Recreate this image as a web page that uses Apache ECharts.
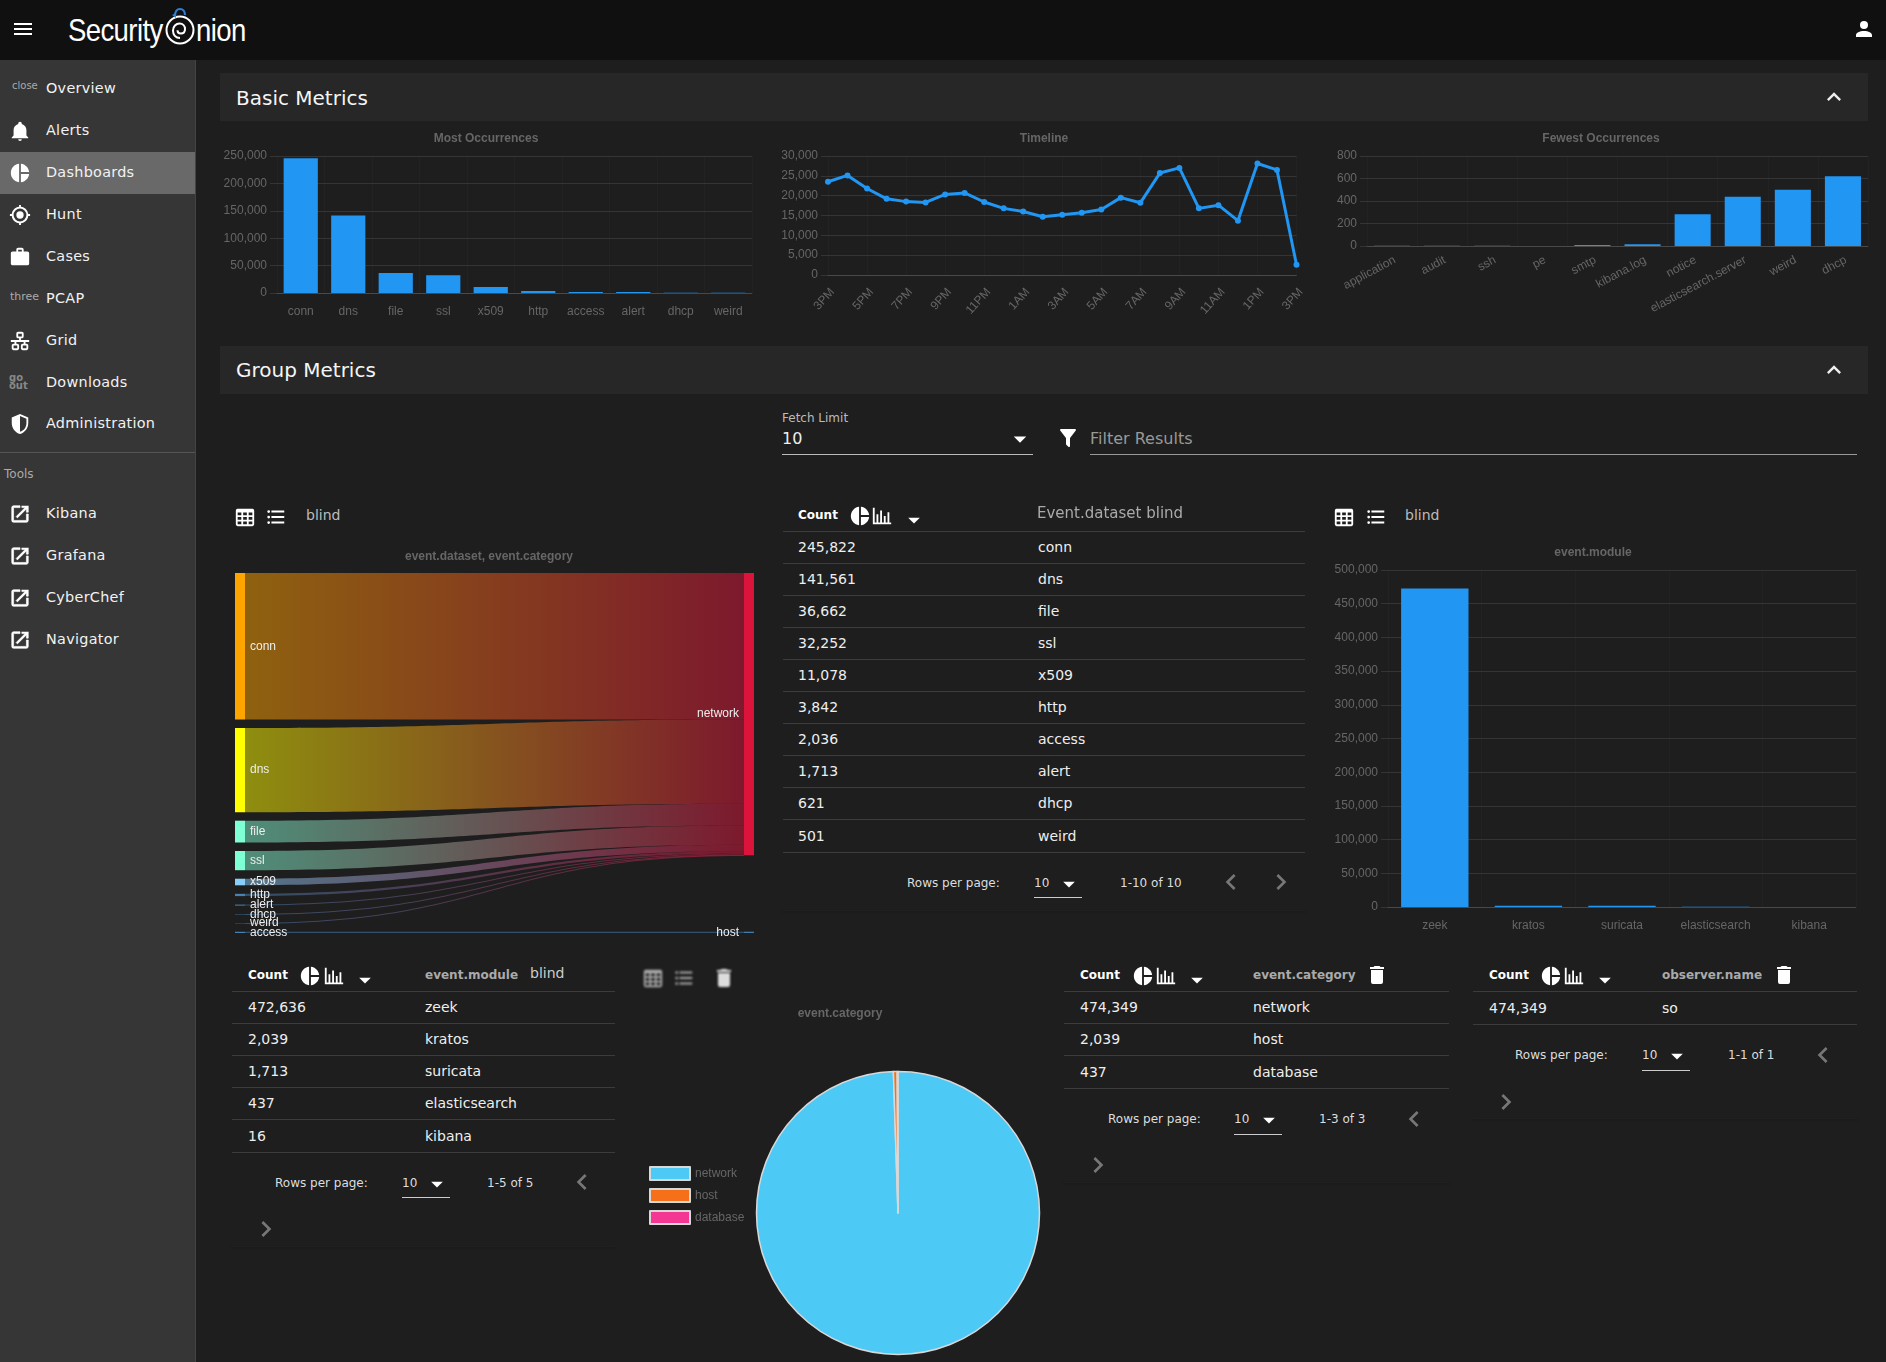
<!DOCTYPE html>
<html>
<head>
<meta charset="utf-8">
<title>Security Onion Dashboards</title>
<script src="https://cdn.jsdelivr.net/npm/echarts@6/dist/echarts.min.js"></script>
<style>
html, body { margin: 0; padding: 0; background: #1e1e1e; }
#page { position: relative; width: 1886px; height: 1362px; overflow: hidden; background: #1e1e1e; font-family: "DejaVu Sans", sans-serif; color: #fff; }
.box { position: absolute; }
.txt { position: absolute; white-space: nowrap; transform: translateY(-50%); }
.chart { position: absolute; }
svg.ic { position: absolute; transform: translate(-50%, -50%); }
</style>
</head>
<body>
<div id="page"></div>
<script>
// most / fewest occurrences
var mostCats = ['conn', 'dns', 'file', 'ssl', 'x509', 'http', 'access', 'alert', 'dhcp', 'weird'];
var mostVals = [245822, 141561, 36662, 32252, 11078, 3842, 2036, 1713, 621, 501];
var fewestCats = ['application', 'audit', 'ssh', 'pe', 'smtp', 'kibana.log', 'notice', 'elasticsearch.server', 'weird', 'dhcp'];
var fewestVals = [2, 2, 3, 1, 10, 16, 282, 437, 501, 621];

// timeline, hourly
var timeCats = ['3PM', '4PM', '5PM', '6PM', '7PM', '8PM', '9PM', '10PM', '11PM', '12AM', '1AM', '2AM', '3AM', '4AM', '5AM', '6AM', '7AM', '8AM', '9AM', '10AM', '11AM', '12PM', '1PM', '2PM', '3PM'];
var timeVals = [23500, 25100, 21800, 19200, 18500, 18300, 20300, 20700, 18400, 16800, 16000, 14700, 15200, 15700, 16500, 19500, 18200, 25700, 27000, 16800, 17600, 13700, 28100, 26500, 2600];

// sankey
var sankeyLeft = ['conn', 'dns', 'file', 'ssl', 'x509', 'http', 'alert', 'dhcp', 'weird', 'access'];
var sankeyLeftVals = [245822, 141561, 36662, 32252, 11078, 3842, 1713, 621, 501, 2036];
var sankeyRight = ['network', 'network', 'network', 'network', 'network', 'network', 'network', 'network', 'network', 'host'];
var sankeyColors = ['#ffa500', '#ffff00', '#7fffd4', '#7fffd4', '#87cefa', '#4682b4', '#4682b4', '#4682b4', '#4682b4', '#4682b4'];

// event.module
var moduleCats = ['zeek', 'kratos', 'suricata', 'elasticsearch', 'kibana'];
var moduleVals = [472636, 2039, 1713, 437, 16];

// event.category
var categoryCats = ['network', 'host', 'database'];
var categoryVals = [474349, 2039, 437];
var categoryColors = ['#4dc9f6', '#f67019', '#f53794'];

var observerCats = ['so'];
var observerVals = [474349];

var navItems = [
  ['Overview', 88, 'close'], ['Alerts', 130, 'bell'], ['Dashboards', 172, 'pie'], ['Hunt', 214, 'hunt'],
  ['Cases', 256, 'case'], ['PCAP', 298, 'three'], ['Grid', 340, 'grid'], ['Downloads', 382, 'go'],
  ['Administration', 423, 'shield'], ['Kibana', 513, 'link'], ['Grafana', 555, 'link'],
  ['CyberChef', 597, 'link'], ['Navigator', 639, 'link']
];

var icons = {
  menu: 'M3,6H21V8H3V6M3,11H21V13H3V11M3,16H21V18H3V16Z',
  bell: 'M21,19V20H3V19L5,17V11C5,7.9 7.03,5.17 10,4.29C10,4.19 10,4.1 10,4A2,2 0 0,1 12,2A2,2 0 0,1 14,4C14,4.1 14,4.19 14,4.29C16.97,5.17 19,7.9 19,11V17L21,19M14,21A2,2 0 0,1 12,23A2,2 0 0,1 10,21',
  pie: 'M11,2V22C5.9,21.5 2,17.2 2,12C2,6.8 5.9,2.5 11,2M13,2V11H22C21.5,6.2 17.8,2.5 13,2M13,13V22C17.7,21.5 21.5,17.8 22,13H13Z',
  hunt: 'M12,8A4,4 0 0,1 16,12A4,4 0 0,1 12,16A4,4 0 0,1 8,12A4,4 0 0,1 12,8M3.05,13H1V11H3.05C3.5,6.83 6.83,3.5 11,3.05V1H13V3.05C17.17,3.5 20.5,6.83 20.95,11H23V13H20.95C20.5,17.17 17.17,20.5 13,20.95V23H11V20.95C6.83,20.5 3.5,17.17 3.05,13M12,5A7,7 0 0,0 5,12A7,7 0 0,0 12,19A7,7 0 0,0 19,12A7,7 0 0,0 12,5Z',
  'case': 'M10,2H14A2,2 0 0,1 16,4V6H20A2,2 0 0,1 22,8V19A2,2 0 0,1 20,21H4C2.89,21 2,20.1 2,19V8C2,6.89 2.89,6 4,6H8V4C8,2.89 8.89,2 10,2M14,6V4H10V6H14Z',
  grid: 'M10,2C8.89,2 8,2.89 8,4V7C8,8.11 8.89,9 10,9H11V11H2V13H6V15H5C3.89,15 3,15.89 3,17V20C3,21.11 3.89,22 5,22H9C10.11,22 11,21.11 11,20V17C11,15.89 10.11,15 9,15H8V13H16V15H15C13.89,15 13,15.89 13,17V20C13,21.11 13.89,22 15,22H19C20.11,22 21,21.11 21,20V17C21,15.89 20.11,15 19,15H18V13H22V11H13V9H14C15.11,9 16,8.11 16,7V4C16,2.89 15.11,2 14,2H10M10,4H14V7H10V4M5,17H9V20H5V17M15,17H19V20H15V17Z',
  shield: 'M12,1L3,5V11C3,16.55 6.84,21.74 12,23C17.16,21.74 21,16.55 21,11V5L12,1M12,3.18L19,6.3V11.22C19,15.54 16.08,19.5 12,20.5V3.18Z',
  link: 'M14,3V5H17.59L7.76,14.83L9.17,16.24L19,6.41V10H21V3M19,19H5V5H12V3H5C3.89,3 3,3.9 3,5V19A2,2 0 0,0 5,21H19C20.1,21 21,20.1 21,19V12H19V19Z',
  user: 'M12,4A4,4 0 0,1 16,8A4,4 0 0,1 12,12A4,4 0 0,1 8,8A4,4 0 0,1 12,4M12,14C16.42,14 20,15.79 20,18V20H4V18C4,15.79 7.58,14 12,14Z',
  up: 'M7.41,15.41L12,10.83L16.59,15.41L18,14L12,8L6,14L7.41,15.41Z',
  left: 'M15.41,16.58L10.83,12L15.41,7.41L14,6L8,12L14,18L15.41,16.58Z',
  right: 'M8.59,16.58L13.17,12L8.59,7.41L10,6L16,12L10,18L8.59,16.58Z',
  down: 'M7,10L12,15L17,10H7Z',
  table: 'M4,3H20A2,2 0 0,1 22,5V20A2,2 0 0,1 20,22H4A2,2 0 0,1 2,20V5A2,2 0 0,1 4,3M4,7V10H8V7H4M10,7V10H14V7H10M20,10V7H16V10H20M4,12V15H8V12H4M4,20H8V17H4V20M10,12V15H14V12H10M10,20H14V17H10V20M20,20V17H16V20H20M20,12H16V15H20V12Z',
  list: 'M7,5H21V7H7V5M7,13V11H21V13H7M4,4.5A1.5,1.5 0 0,1 5.5,6A1.5,1.5 0 0,1 4,7.5A1.5,1.5 0 0,1 2.5,6A1.5,1.5 0 0,1 4,4.5M4,10.5A1.5,1.5 0 0,1 5.5,12A1.5,1.5 0 0,1 4,13.5A1.5,1.5 0 0,1 2.5,12A1.5,1.5 0 0,1 4,10.5M7,19V17H21V19H7M4,16.5A1.5,1.5 0 0,1 5.5,18A1.5,1.5 0 0,1 4,19.5A1.5,1.5 0 0,1 2.5,18A1.5,1.5 0 0,1 4,16.5Z',
  bars: 'M22,21H2V3H4V19H6V10H8V19H10V6H12V19H14V12H16V19H18V8H20V19H22V21Z',
  trash: 'M19,4H15.5L14.5,3H9.5L8.5,4H5V6H19M6,19A2,2 0 0,0 8,21H16A2,2 0 0,0 18,19V7H6V19Z',
  filter: 'M14,12V19.88C14.04,20.18 13.94,20.5 13.71,20.71C13.32,21.1 12.69,21.1 12.3,20.71L10.29,18.7C10.06,18.47 9.96,18.16 10,17.87V12H9.97L4.21,4.62C3.87,4.19 3.95,3.56 4.38,3.22C4.57,3.08 4.78,3 5,3H19C19.22,3 19.43,3.08 19.62,3.22C20.05,3.56 20.13,4.19 19.79,4.62L14.03,12H14Z'
};

var page = document.getElementById('page');

function box(x, y, w, h, css) {
  var d = document.createElement('div');
  d.className = 'box';
  d.style.cssText = 'left:' + x + 'px;top:' + y + 'px;width:' + w + 'px;height:' + h + 'px;' + (css || '');
  page.appendChild(d);
  return d;
}
function txt(x, y, s, size, color, css) {
  var d = document.createElement('div');
  d.className = 'txt';
  d.textContent = s;
  d.style.cssText = 'left:' + x + 'px;top:' + y + 'px;font-size:' + size + 'px;color:' + color + ';' + (css || '');
  page.appendChild(d);
  return d;
}
function icon(name, x, y, size, color, css) {
  var ns = 'http://www.w3.org/2000/svg';
  var s = document.createElementNS(ns, 'svg');
  s.setAttribute('class', 'ic');
  s.setAttribute('viewBox', '0 0 24 24');
  s.setAttribute('width', size);
  s.setAttribute('height', size);
  s.style.cssText = 'left:' + x + 'px;top:' + y + 'px;' + (css || '');
  var p = document.createElementNS(ns, 'path');
  p.setAttribute('d', icons[name]);
  p.setAttribute('fill', color);
  if (name === 'link') {
    p.setAttribute('stroke', color);
    p.setAttribute('stroke-width', '0.7');
  }
  s.appendChild(p);
  page.appendChild(s);
}

// header
box(0, 0, 1886, 60, 'background:#101010;');
icon('menu', 23, 29, 24, '#fff');
var logoCss = 'font-family:"Liberation Sans";transform:translateY(-50%) scaleX(.86);transform-origin:left center;letter-spacing:-.7px;';
txt(68, 30, 'Security', 32, '#fff', logoCss);
txt(196, 30, 'nion', 32, '#fff', logoCss);
var logo = box(160, 4, 40, 44);
logo.innerHTML = '<svg width="40" height="44" viewBox="0 0 40 44"><circle cx="20" cy="26" r="13.5" fill="none" stroke="#fff" stroke-width="2"/><path d="M20 34c-4.500 0-7-3.500-7-7.500s3-7 6.500-7 5.500 2.500 5.500 5.500-2 4.500-4.200 4.500-3.300-1.500-3.300-3.300" fill="none" stroke="#fff" stroke-width="2"/><path d="M15 12c0-4 2-7 5-7 3 0 5 2.500 5 6" fill="none" stroke="#2f7fd6" stroke-width="2.200"/><path d="M12 11l4-2 0 5z" fill="#2f7fd6"/></svg>';
icon('user', 1864, 29, 24, '#fff');

// sidebar
box(0, 60, 195, 1302, 'background:#363636;border-right:1px solid #444;');
box(0, 152, 195, 42, 'background:#696969;');
box(0, 452, 195, 1, 'background:#555;');
txt(4, 474, 'Tools', 12, '#aaa');
navItems.forEach(function (n) {
  txt(46, n[1], n[0], 14.4, '#f2f2f2', 'letter-spacing:.28px;');
  if (n[2] === 'close') {
    txt(12, n[1] - 3, 'close', 10, '#aaa');
  } else if (n[2] === 'three') {
    txt(10, n[1] - 2, 'three', 11, '#aaa');
  } else if (n[2] === 'go') {
    txt(9, n[1] - 5, 'go', 10, '#888', 'font-weight:bold;');
    txt(9, n[1] + 3, 'out', 10, '#888', 'font-weight:bold;');
  } else {
    icon(n[2], 20, n[1] + 1, 22, '#fff');
  }
});

// panel titles
box(220, 73, 1648, 48, 'background:#272727;');
txt(236, 98, 'Basic Metrics', 20, '#f5f5f5');
icon('up', 1834, 97, 28, '#eee');
box(220, 346, 1648, 48, 'background:#272727;');
txt(236, 370, 'Group Metrics', 20, '#f5f5f5');
icon('up', 1834, 370, 28, '#eee');

// fetch limit and filter
txt(782, 418, 'Fetch Limit', 12, '#bbb');
txt(782, 438, '10', 16, '#eee');
icon('down', 1020, 439, 30, '#fff');
box(782, 454, 251, 1, 'background:#bbb;');
icon('filter', 1068, 438, 24, '#fff');
txt(1090, 438, 'Filter Results', 16, '#999');
box(1090, 454, 767, 1, 'background:#999;');

// chart toolbars
icon('table', 245, 517, 22, '#fff');
icon('list', 276, 517, 22, '#fff');
txt(306, 515, 'blind', 14, '#bbb');
icon('table', 1344, 517, 22, '#fff');
icon('list', 1376, 517, 22, '#fff');
txt(1405, 515, 'blind', 14, '#bbb');
icon('table', 653, 978, 22, '#aaa', 'filter:blur(1px);');
icon('list', 684, 978, 22, '#aaa', 'filter:blur(1px);');
icon('trash', 724, 978, 24, '#ddd', 'filter:blur(1px);');

// tables
function drawTable(t) {
  var hy = t.headY;
  txt(t.countX, hy, 'Count', 12, '#fff', 'font-weight:bold;');
  icon('pie', t.pieX, hy + 1, 22, '#fff');
  icon('bars', t.barX, hy + 1, 22, '#fff');
  icon('down', t.arrowX, hy + 5, 28, '#fff');
  if (t.head) txt(t.nameX, hy, t.head, 12, '#aaa', 'font-weight:bold;');
  var y = t.firstLine;
  box(t.x, y, t.w, 1, 'background:#3c3c3c;');
  t.vals.forEach(function (v, i) {
    var last = i === t.vals.length - 1;
    var mid = y + 16 + (last ? 1 : 0);
    txt(t.countX, mid, v.toLocaleString('en-US'), 14, '#eee');
    txt(t.nameX, mid, t.cats[i], 14, '#eee');
    y += last ? 33 : 32;
    box(t.x, y, t.w, 1, 'background:#3c3c3c;');
  });
  var p = t.pager;
  txt(p.x, p.textY, 'Rows per page:', 12, '#ddd');
  txt(p.tenX, p.textY, '10', 12, '#ddd');
  icon('down', p.tenX + 35, p.textY + 1, 28, '#fff');
  box(p.tenX, p.y + 15, 48, 1, 'background:#ccc;');
  txt(p.rangeX, p.textY, p.range, 12, '#ddd');
  icon('left', p.leftX, p.y, 32, '#777');
  icon('right', p.rightX, p.rightY, 32, '#777');
  box(t.x, p.bottom, t.w, 1, 'background:#202020;box-shadow:0 1px 2px #1a1a1a;');
}
drawTable({ x: 783, w: 522, countX: 798, nameX: 1038, pieX: 860, barX: 882, arrowX: 914, headY: 515, firstLine: 531, vals: mostVals, cats: mostCats,
  pager: { x: 907, y: 882, textY: 882.5, tenX: 1034, rangeX: 1120, range: '1-10 of 10', leftX: 1231, rightX: 1281, rightY: 882, bottom: 910 } });
txt(1037, 513, 'Event.dataset blind', 15, '#aaa', 'filter:blur(.4px);');
drawTable({ x: 232, w: 383, countX: 248, nameX: 425, pieX: 310, barX: 334, arrowX: 365, headY: 975, firstLine: 991, head: 'event.module', vals: moduleVals, cats: moduleCats,
  pager: { x: 275, y: 1182, textY: 1182.5, tenX: 402, rangeX: 487, range: '1-5 of 5', leftX: 582, rightX: 266, rightY: 1229, bottom: 1246 } });
txt(530, 973, 'blind', 14, '#ccc');
drawTable({ x: 1064, w: 385, countX: 1080, nameX: 1253, pieX: 1143, barX: 1166, arrowX: 1197, headY: 975, firstLine: 991, head: 'event.category', vals: categoryVals, cats: categoryCats,
  pager: { x: 1108, y: 1119, textY: 1118.5, tenX: 1234, rangeX: 1319, range: '1-3 of 3', leftX: 1414, rightX: 1098, rightY: 1165, bottom: 1182 } });
icon('trash', 1377, 975, 24, '#fff');
drawTable({ x: 1473, w: 384, countX: 1489, nameX: 1662, pieX: 1551, barX: 1574, arrowX: 1605, headY: 975, firstLine: 991, head: 'observer.name', vals: observerVals, cats: observerCats,
  pager: { x: 1515, y: 1055, textY: 1054.5, tenX: 1642, rangeX: 1728, range: '1-1 of 1', leftX: 1823, rightX: 1506, rightY: 1102, bottom: 1118 } });
icon('trash', 1784, 975, 24, '#fff');

// charts
var axisFont = 'Liberation Sans';
var gridColor = 'rgba(255,255,255,0.1)';

function makeChart(x, y, w, h) {
  var d = document.createElement('div');
  d.className = 'chart';
  d.style.cssText = 'left:' + x + 'px;top:' + y + 'px;width:' + w + 'px;height:' + h + 'px;';
  page.appendChild(d);
  return echarts.init(d);
}
function chartTitle(text, cx, y) {
  return { text: text, left: cx, top: y, textAlign: 'center', textStyle: { color: '#666', fontSize: 12, fontWeight: 'bold', fontFamily: axisFont } };
}
function yAxis(max, interval) {
  return {
    type: 'value', min: 0, max: max, interval: interval,
    axisLine: { show: false },
    axisTick: { show: true, length: 7, lineStyle: { color: gridColor } },
    axisLabel: { color: '#666', fontSize: 12, fontFamily: axisFont, margin: 10 },
    splitLine: { lineStyle: { color: gridColor } }
  };
}
function xAxis(cats, rotate, gap, labelInterval, margin) {
  var label = { color: '#666', fontSize: 12, fontFamily: axisFont, rotate: rotate, margin: margin, interval: labelInterval };
  if (rotate) label.verticalAlign = 'top';
  return {
    type: 'category', data: cats, boundaryGap: gap,
    axisLine: { lineStyle: { color: gridColor } },
    axisTick: { show: false },
    axisLabel: label,
    splitLine: { show: true, lineStyle: { color: 'rgba(255,255,255,0.02)' } }
  };
}
function barChart(box, title, cats, vals, yMax, yStep, rotate, margin) {
  var c = makeChart(box.x, box.y, box.w, box.h);
  c.setOption({
    animation: false,
    title: chartTitle(title, box.titleX - box.x, box.titleY - box.y),
    grid: { left: box.left - box.x, top: box.top - box.y, width: box.right - box.left, height: box.bottom - box.top },
    xAxis: xAxis(cats, rotate, true, 0, margin),
    yAxis: yAxis(yMax, yStep),
    series: [{ type: 'bar', data: vals, barWidth: '72%', itemStyle: { color: '#2196f3' } }]
  });
  return c;
}

barChart({ x: 200, y: 125, w: 570, h: 215, left: 277, right: 752, top: 156, bottom: 293, titleX: 481, titleY: 127.5 },
  'Most Occurrences', mostCats, mostVals, 250000, 50000, 0, 13);
barChart({ x: 1310, y: 125, w: 576, h: 220, left: 1367, right: 1868, top: 156, bottom: 246, titleX: 1596, titleY: 127.5 },
  'Fewest Occurrences', fewestCats, fewestVals, 800, 200, 28, 8);
barChart({ x: 1310, y: 535, w: 576, h: 410, left: 1388, right: 1856, top: 570, bottom: 907, titleX: 1588, titleY: 541.5 },
  'event.module', moduleCats, moduleVals, 500000, 50000, 0, 13);

// timeline
var timeline = makeChart(760, 125, 560, 220);
timeline.setOption({
  animation: false,
  title: chartTitle('Timeline', 1039 - 760, 2.5),
  grid: { left: 828 - 760, top: 156 - 125, width: 1296.5 - 828, height: 275 - 156 },
  xAxis: xAxis(timeCats, 48, false, 1, 11),
  yAxis: yAxis(30000, 5000),
  series: [{ type: 'line', data: timeVals, symbol: 'circle', symbolSize: 6,
    lineStyle: { color: '#2196f3', width: 3 }, itemStyle: { color: '#2196f3' } }]
});

// sankey
var sankey = makeChart(220, 535, 560, 410);
var sankeyNodes = sankeyLeft.map(function (n, i) {
  return { name: n, itemStyle: { color: sankeyColors[i] }, label: { position: 'right' } };
});
sankeyNodes.push({ name: 'network', itemStyle: { color: '#dc143c' }, label: { position: 'left' } });
sankeyNodes.push({ name: 'host', localY: 0.9965, itemStyle: { color: '#4682b4' }, label: { position: 'left' } });
sankey.setOption({
  animation: false,
  title: chartTitle('event.dataset, event.category', 484 - 220, 10.5),
  series: [{
    type: 'sankey', left: 15, top: 38, width: 519, height: 360,
    nodeWidth: 10, nodeGap: 8.5, layoutIterations: 0, draggable: false, nodeAlign: 'justify',
    emphasis: { disabled: true },
    label: { color: '#eee', fontSize: 12, fontFamily: axisFont, distance: 5 },
    lineStyle: { color: 'gradient', opacity: 0.5, curveness: 0.5 },
    data: sankeyNodes,
    links: sankeyLeft.map(function (n, i) {
      return { source: n, target: sankeyRight[i], value: sankeyLeftVals[i] };
    })
  }]
});

// pie
var pie = makeChart(640, 995, 420, 367);
pie.setOption({
  animation: false,
  title: chartTitle('event.category', 835 - 640, 7.5),
  legend: {
    orient: 'vertical', left: 4, top: 166, itemWidth: 40, itemHeight: 13, itemGap: 7, icon: 'rect',
    textStyle: { color: '#666', fontSize: 12, fontFamily: axisFont },
    data: categoryCats
  },
  series: [{
    type: 'pie', center: [898 - 640, 1213 - 995], radius: 141.5, startAngle: 90, clockwise: true,
    label: { show: false }, labelLine: { show: false }, emphasis: { disabled: true },
    itemStyle: { borderColor: '#d8d8d8', borderWidth: 1.5 },
    data: categoryCats.map(function (n, i) {
      return { name: n, value: categoryVals[i], itemStyle: { color: categoryColors[i] } };
    })
  }]
});
</script>
</body>
</html>
